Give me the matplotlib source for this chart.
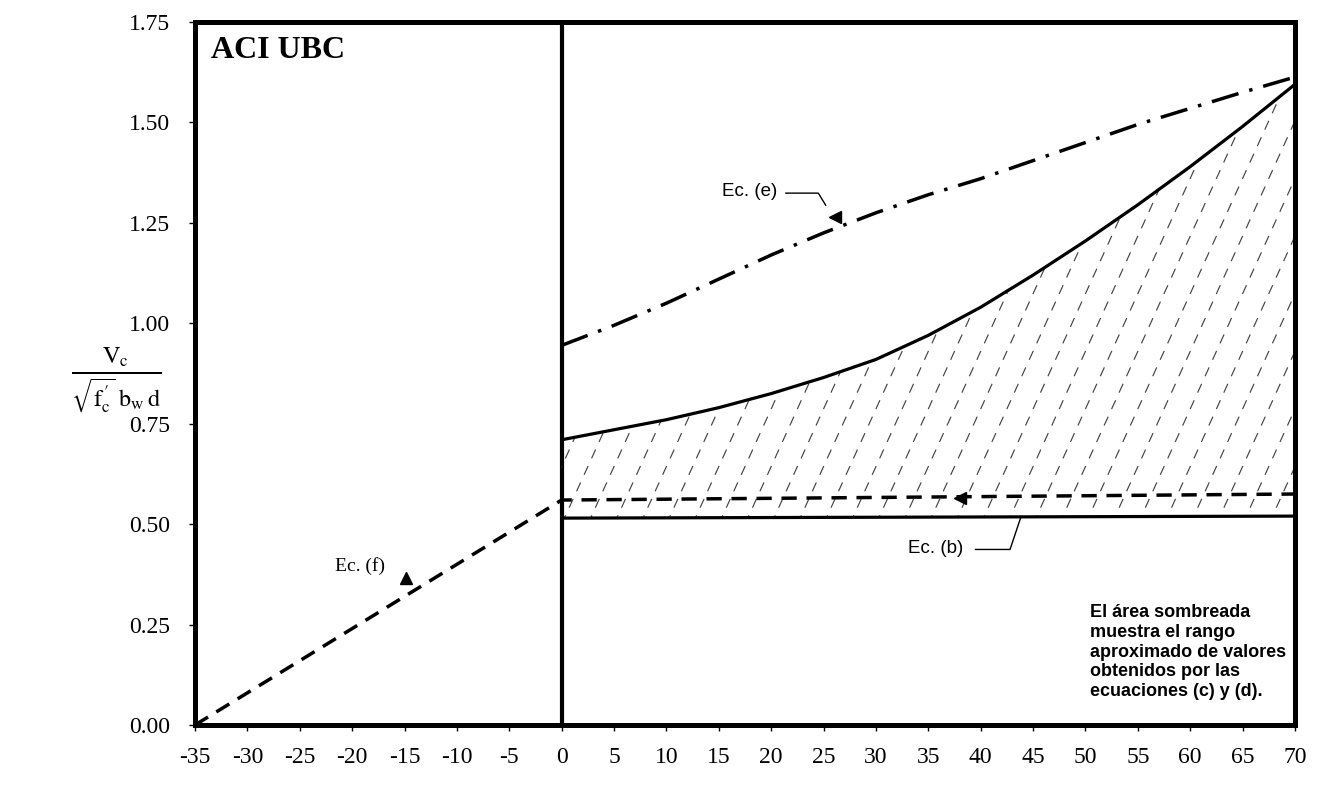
import numpy as np
import matplotlib
matplotlib.use("Agg")
import matplotlib.pyplot as plt
from matplotlib.patches import Polygon

plt.rcParams["lines.scale_dashes"] = False
plt.rcParams["mathtext.fontset"] = "stix"

# ---- data -------------------------------------------------------------
x_right = [0, 5, 10, 15, 20, 25, 30, 35, 40, 45, 50, 55, 60, 65, 70]
# upper bound of shaded range (solid curve)
upper_cd = [0.71, 0.735, 0.76, 0.79, 0.825, 0.865, 0.91, 0.97, 1.04,
            1.12, 1.205, 1.295, 1.39, 1.49, 1.595]
# Ec. (e) dash-dot curve
ec_e = [0.945, 0.995, 1.05, 1.11, 1.17, 1.225, 1.275, 1.32, 1.36,
        1.405, 1.45, 1.495, 1.535, 1.575, 1.613]
# Ec. (f) dashed line, continuing horizontally for positive values
dash_x = [-35, 0, 70]
dash_y = [0.0, 0.56, 0.575]
# Ec. (b) horizontal solid line
ec_b_x = [0, 70]
ec_b = [0.515, 0.52]

x_ticks = list(range(-35, 71, 5))
y_ticks = [0.0, 0.25, 0.5, 0.75, 1.0, 1.25, 1.5, 1.75]

note = ("El área sombreada\nmuestra el rango\naproximado de valores\n"
        "obtenidos por las\necuaciones (c) y (d).")

# ---- figure -----------------------------------------------------------
W, H = 1317, 793
fig = plt.figure(figsize=(W / 100, H / 100), dpi=100)
ax = fig.add_axes([195 / W, 1 - 725 / H, 1100 / W, 703 / H])
ax.set_xlim(-35, 70)
ax.set_ylim(0, 1.75)

for s in ax.spines.values():
    s.set_linewidth(3.6)
ax.axvline(0, color="black", lw=3.0)

serif = "Liberation Serif"
sans = "Liberation Sans"

ax.set_xticks(x_ticks)
ax.set_xticklabels([str(v) for v in x_ticks], family=serif, fontsize=17)
ax.set_yticks(y_ticks)
ax.set_yticklabels([f"{v:.2f}" for v in y_ticks], family=serif, fontsize=17)
ax.tick_params(axis="x", direction="out", length=4, width=1, pad=12)
ax.tick_params(axis="y", direction="out", length=4, width=1, pad=14)

# shaded range: steep broken hatch lines clipped to the band
xr = np.array(x_right, dtype=float)
lower = np.interp(xr, ec_b_x, ec_b)
band = Polygon(np.column_stack([np.r_[xr, xr[::-1]],
                                np.r_[np.array(upper_cd), lower[::-1]]]),
               closed=True, facecolor="none", edgecolor="none")
ax.add_patch(band)
slope = 2.2 * (1100 / 105) / (703 / 1.75)   # data-units rise per x unit
for x0 in np.arange(-25, 70.1, 2.5):
    xs = np.array([x0, x0 + 1.2 / slope])
    ys = 0.5 + slope * (xs - x0)
    ln, = ax.plot(xs, ys, color="#444444", lw=0.85, dashes=(7, 6))
    ln.set_clip_path(band)

# curves
ax.plot(x_right, upper_cd, color="black", lw=2.3, solid_capstyle="butt")
ax.plot(ec_b_x, ec_b, color="black", lw=2.3)
ax.plot(x_right, ec_e, color="black", lw=2.5, dashes=(20, 8, 2.5, 8))
ax.plot(dash_x, dash_y, color="black", lw=2.5, dashes=(11, 7))

# labels with leaders and arrowheads
ax.text(-33.5, 1.68, "ACI UBC", family=serif, fontweight="bold",
        fontsize=23, va="center", ha="left")

ax.text(15.3, 1.327, "Ec. (e)", family=sans, fontsize=13.5,
        va="center", ha="left")
ax.plot([21.4, 24.5, 25.2], [1.324, 1.324, 1.294], color="black", lw=1)
ax.plot([26.1], [1.265], marker="<", color="black", ms=8, mec="black")

ax.text(33.1, 0.44, "Ec. (b)", family=sans, fontsize=13.5,
        va="center", ha="left")
ax.plot([39.5, 42.8, 43.8], [0.437, 0.437, 0.515], color="black", lw=1)
ax.plot([38.0], [0.566], marker="<", color="black", ms=8, mec="black")

ax.text(-21.6, 0.396, "Ec. (f)", family=serif, fontsize=14,
        va="center", ha="left")
ax.plot([-14.9], [0.366], marker="^", color="black", ms=8, mec="black")

ax.text(50.4, 0.30, note, family=sans, fontsize=13, fontweight="bold",
        va="top", ha="left", linespacing=1.2)

fig.text(116 / W, 1 - 380 / H,
         r"$\frac{\mathrm{V_c}}{\sqrt{\mathrm{f}^{\,\prime}_{\mathrm{c}}}\;"
         r"\mathrm{b_w\,d}}$",
         fontsize=25, ha="center", va="center")

fig.savefig("out.png", dpi=100)
